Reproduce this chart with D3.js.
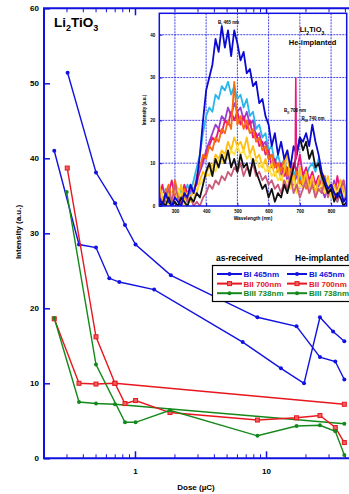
<!DOCTYPE html>
<html>
<head>
<meta charset="utf-8">
<script src="https://cdn.jsdelivr.net/npm/d3@7"></script>
<style>
  body { margin: 0; background: #fff; }
  svg { display: block; }
  text { font-family: "Liberation Sans", Arial, sans-serif; font-weight: bold; }
</style>
</head>
<body>
<svg id="chart" width="349" height="494"></svg>
<script>
// ---- main chart: intensity vs dose ----
// as-received
const doseBIasRec = [0.242, 0.374, 0.504, 0.637, 0.759, 1.40, 6.64, 13.0, 19.5, 25.8, 32.5, 39.6];
const intBIasRec = [41.0, 28.5, 28.1, 24.0, 23.5, 22.5, 15.5, 12.0, 10.0, 18.8, 16.9, 15.6];
const doseBIIasRec = [0.242, 0.374, 0.504, 0.703, 39.6];
const intBIIasRec = [18.6, 10.0, 9.9, 10.0, 7.2];
const doseBIIIasRec = [0.242, 0.374, 0.504, 0.703, 39.6];
const intBIIIasRec = [18.7, 7.5, 7.3, 7.2, 4.6];
// He-implanted
const doseBIhe = [0.306, 0.504, 0.705, 0.839, 1.01, 1.88, 8.6, 17.1, 25.8, 33.8, 39.6];
const intBIhe = [51.4, 38.1, 34.0, 31.1, 28.5, 24.4, 18.8, 17.6, 13.5, 12.9, 10.5];
const doseBIIhe = [0.304, 0.504, 0.703, 0.839, 1.01, 1.85, 8.6, 17.1, 25.8, 33.8, 39.6];
const intBIIhe = [38.7, 16.2, 10.0, 7.3, 7.7, 6.1, 5.1, 5.4, 5.7, 4.1, 2.1];
const doseBIIIhe = [0.301, 0.504, 0.839, 1.01, 1.85, 8.6, 17.1, 25.8, 33.8, 39.6];
const intBIIIhe = [35.5, 12.5, 4.8, 4.8, 6.4, 3.0, 4.3, 4.4, 3.6, 0.45];

const yTicks = [0, 10, 20, 30, 40, 50, 60];
const xLabels = [1, 10];
const bandNames = ["BI 465nm", "BII 700nm", "BIII 738nm"];

// ---- inset: spectra of He-implanted sample ----
const wl = [250,260,270,280,290,300,310,320,330,340,350,360,370,380,390,400,410,420,430,440,
  450,460,470,480,490,500,510,520,530,540,550,560,570,580,590,600,610,620,630,640,
  650,660,670,680,690,700,710,720,730,740,750,760,770,780,790,800,810,820,830,840,850];
const specCyan = [3,1,4,0,2,3,1,4,2,5,3,6,9,12,17,21,23,22,26,25,28,27,29,26,28,25,26,23,25,21,
  22,18,19,16,17,13,14,10,12,9,11,8,10,7,9,6,8,7,9,10,8,11,6,4,5,2,4,1,3,2,1];
const specPurple = [1,3,0,2,1,4,2,0,3,1,4,3,6,8,10,13,15,17,19,18,21,20,23,21,24,22,23,20,22,19,
  20,16,17,14,15,11,12,9,10,7,9,6,8,5,7,6,4,7,5,6,3,5,4,2,5,3,6,2,4,1,3];
const specMagenta = [2,5,1,3,6,2,4,1,5,3,2,4,5,9,11,12,14,16,15,18,17,20,19,22,20,22,19,21,18,20,
  16,17,14,15,12,13,9,11,8,10,7,9,6,10,8,12,7,9,6,8,5,7,4,6,3,5,2,7,3,6,2];
const specOrange = [4,1,3,5,2,6,3,1,4,2,5,3,7,9,12,11,14,13,16,15,18,17,20,18,29,19,21,18,20,17,
  18,15,16,13,14,11,12,9,10,8,11,7,9,6,8,5,7,4,6,5,3,6,4,7,3,5,2,4,6,3,4];
const specGold = [5,2,0,3,1,4,2,5,1,3,2,4,3,6,8,7,10,9,12,11,13,12,15,13,16,14,15,13,16,12,
  14,11,12,9,11,8,10,7,9,6,8,13,5,7,4,9,5,8,4,7,3,6,8,4,7,3,5,2,6,4,3];
const specYellow = [1,3,2,0,3,1,4,2,0,3,1,2,4,5,6,8,7,9,8,11,10,12,11,13,12,14,12,13,11,12,
  10,11,9,10,8,9,7,8,6,7,5,6,4,6,3,5,4,6,3,5,2,4,5,3,6,2,4,3,5,2,6];
const specMauve = [3,0,2,4,1,5,2,0,3,1,2,0,1,0,2,3,5,4,6,5,7,6,8,7,9,8,10,7,9,8,
  10,7,8,6,7,5,6,4,5,3,6,4,7,3,5,2,4,6,3,5,2,4,3,6,2,5,3,1,4,6,2];
const specBlack = [0,1,0,2,0,1,0,2,1,0,2,1,3,2,5,8,10,7,11,9,12,10,13,9,11,8,12,9,10,7,
  11,8,6,4,5,2,4,1,3,2,5,3,6,9,12,16,13,15,11,13,9,10,7,5,3,4,1,3,2,0,1];
const specBlue = [2,0,3,1,0,2,1,0,3,2,5,3,6,12,20,27,30,33,39,36,42,37,41,35,41,38,34,36,31,32,
  28,29,24,25,21,19,14,17,12,15,11,13,9,14,12,16,15,17,14,19,15,12,8,6,4,5,3,2,4,1,2];
const spikeWl = [685, 687, 689];
const spikeVal = [9, 30, 11];
const insetXTicks = [300, 400, 500, 600, 700, 800];
const insetYTicks = [0, 10, 20, 30, 40];

const blue = "#1212e0", red = "#e8161e", green = "#14891b";

const svg = d3.select("#chart");

const x = d3.scaleLog().domain([0.2, 50]).range([43.4, 357.6]);
const y = d3.scaleLinear().domain([0, 60]).range([458.3, 8.3]);

// minor + major ticks on bottom and top
const minorVals = [];
[0.1, 1, 10].forEach(d => { for (let k = 1; k <= 9; k++) minorVals.push(d * k); });
const minorTicks = minorVals.filter(v => v >= 0.2 && v <= 50);

svg.append("g").attr("transform", "translate(0,458.3)")
  .call(d3.axisBottom(x).tickValues(minorTicks).tickSize(-4).tickFormat(""))
  .call(g => g.select(".domain").remove())
  .call(g => g.selectAll("line").attr("stroke", blue));
svg.append("g").attr("transform", "translate(0,458.3)")
  .call(d3.axisBottom(x).tickValues(xLabels).tickSize(-7).tickPadding(10).tickFormat(d3.format("d")))
  .call(g => g.select(".domain").remove())
  .call(g => g.selectAll("line").attr("stroke", blue).attr("stroke-width", 1.5))
  .call(g => g.selectAll("text").attr("font-size", 8).attr("fill", "#000"));

svg.append("g").attr("transform", "translate(0,8.3)")
  .call(d3.axisTop(x).tickValues(minorTicks).tickSize(-4).tickFormat(""))
  .call(g => g.select(".domain").remove())
  .call(g => g.selectAll("line").attr("stroke", blue));
svg.append("g").attr("transform", "translate(0,8.3)")
  .call(d3.axisTop(x).tickValues(xLabels).tickSize(-7).tickFormat(""))
  .call(g => g.select(".domain").remove())
  .call(g => g.selectAll("line").attr("stroke", blue).attr("stroke-width", 1.5));

svg.append("g").attr("transform", "translate(44,0)")
  .call(d3.axisLeft(y).tickValues(yTicks).tickSize(-6).tickPadding(5))
  .call(g => g.select(".domain").remove())
  .call(g => g.selectAll("line").attr("stroke", blue).attr("stroke-width", 1.5))
  .call(g => g.selectAll("text").attr("font-size", 8).attr("fill", "#000"));

// frame
svg.append("path")
  .attr("d", `M349,8.3H44V458.3H349`)
  .attr("fill", "none").attr("stroke", blue).attr("stroke-width", 2);

// axis titles
svg.append("text").attr("x", 196).attr("y", 490).attr("text-anchor", "middle")
  .attr("font-size", 8).text("Dose (µC)");
svg.append("text").attr("transform", "translate(21,232) rotate(-90)")
  .attr("text-anchor", "middle").attr("font-size", 8).text("Intensity (a.u.)");

// title
const title = svg.append("text").attr("x", 54).attr("y", 27).attr("font-size", 13.5);
title.append("tspan").text("Li");
title.append("tspan").attr("font-size", 9).attr("dy", 4).text("2");
title.append("tspan").attr("dy", -4).text("TiO");
title.append("tspan").attr("font-size", 9).attr("dy", 4).text("3");

// series
const series = [
  { d: doseBIasRec, v: intBIasRec, c: blue, m: "dot" },
  { d: doseBIIasRec, v: intBIIasRec, c: red, m: "sq" },
  { d: doseBIIIasRec, v: intBIIIasRec, c: green, m: "dot" },
  { d: doseBIhe, v: intBIhe, c: blue, m: "dot" },
  { d: doseBIIhe, v: intBIIhe, c: red, m: "sq" },
  { d: doseBIIIhe, v: intBIIIhe, c: green, m: "dot" }
];
const line = d3.line().x(p => x(p[0])).y(p => y(p[1]));

function marker(g, px, py, c, m) {
  if (m === "sq") {
    g.append("rect").attr("x", px - 2).attr("y", py - 2).attr("width", 4).attr("height", 4)
      .attr("fill", "#f06060").attr("stroke", c).attr("stroke-width", 1);
  } else {
    g.append("circle").attr("cx", px).attr("cy", py).attr("r", 2).attr("fill", c);
  }
}

series.forEach(s => {
  const pts = s.d.map((d, i) => [d, s.v[i]]);
  svg.append("path").datum(pts).attr("d", line)
    .attr("fill", "none").attr("stroke", s.c).attr("stroke-width", 1.4);
  const g = svg.append("g");
  pts.forEach(p => marker(g, x(p[0]), y(p[1]), s.c, s.m));
});

// legend
const lg = svg.append("g");
lg.append("text").attr("x", 216).attr("y", 261).attr("font-size", 8.5).text("as-received");
lg.append("text").attr("x", 295).attr("y", 261).attr("font-size", 8.5).text("He-implanted");
lg.append("rect").attr("x", 212.5).attr("y", 265.5).attr("width", 200).attr("height", 36)
  .attr("fill", "#fff").attr("stroke", "#000").attr("stroke-width", 1.2);
const legColors = [blue, red, green];
const legMarks = ["dot", "sq", "dot"];
bandNames.forEach((name, i) => {
  const ly = 274 + i * 9.6;
  [[217, 242, 243.5], [287, 307, 309]].forEach(col => {
    lg.append("line").attr("x1", col[0]).attr("x2", col[1]).attr("y1", ly).attr("y2", ly)
      .attr("stroke", legColors[i]).attr("stroke-width", 2);
    marker(lg, (col[0] + col[1]) / 2, ly, legColors[i], legMarks[i]);
    lg.append("text").attr("x", col[2]).attr("y", ly + 3).attr("font-size", 8)
      .attr("fill", legColors[i]).text(name);
  });
});

// ---- inset ----
const xi = d3.scaleLinear().domain([250, 850]).range([159.3, 346.7]);
const yi = d3.scaleLinear().domain([0, 45]).range([206, 13.3]);
const ins = svg.append("g");
ins.append("rect").attr("x", 159.3).attr("y", 13.3).attr("width", 187.4).attr("height", 192.7)
  .attr("fill", "#fff");
ins.append("clipPath").attr("id", "insclip").append("rect")
  .attr("x", 159.3).attr("y", 13.3).attr("width", 187.4).attr("height", 192.7);

// grid
ins.append("g").selectAll("line").data(insetXTicks).join("line")
  .attr("x1", d => xi(d)).attr("x2", d => xi(d)).attr("y1", 13.3).attr("y2", 206)
  .attr("stroke", blue).attr("stroke-width", 0.8).attr("stroke-dasharray", "2,1");
ins.append("g").selectAll("line").data(insetYTicks.slice(1)).join("line")
  .attr("x1", 159.3).attr("x2", 346.7).attr("y1", d => yi(d)).attr("y2", d => yi(d))
  .attr("stroke", blue).attr("stroke-width", 0.8).attr("stroke-dasharray", "2,1");

const specs = [
  [specCyan, "#29b6ec"], [specPurple, "#9a3fd0"], [specMagenta, "#e8187e"],
  [specOrange, "#fb6a0c"], [specGold, "#ffbf10"], [specYellow, "#ffe04a"],
  [specMauve, "#cc5a7a"], [specBlack, "#111111"], [specBlue, "#0a0ad0"]
];
const sline = d3.line().x((d, i) => xi(wl[i])).y(d => yi(d));
const sg = ins.append("g").attr("clip-path", "url(#insclip)");
specs.forEach(s => {
  sg.append("path").datum(s[0]).attr("d", sline)
    .attr("fill", "none").attr("stroke", s[1]).attr("stroke-width", 1.8)
    .attr("stroke-linejoin", "round");
});
sg.append("path").datum(spikeVal)
  .attr("d", d3.line().x((d, i) => xi(spikeWl[i])).y(d => yi(d)))
  .attr("fill", "none").attr("stroke", "#e8187e").attr("stroke-width", 1.6);

// inset axes
ins.append("g").attr("transform", "translate(0,206)")
  .call(d3.axisBottom(xi).tickValues(insetXTicks).tickSize(-3).tickPadding(4))
  .call(g => g.select(".domain").remove())
  .call(g => g.selectAll("line").attr("stroke", blue))
  .call(g => g.selectAll("text").attr("font-size", 4.5).attr("fill", "#000"));
ins.append("g").attr("transform", "translate(159.3,0)")
  .call(d3.axisLeft(yi).tickValues(insetYTicks).tickSize(-3).tickPadding(4))
  .call(g => g.select(".domain").remove())
  .call(g => g.selectAll("line").attr("stroke", blue))
  .call(g => g.selectAll("text").attr("font-size", 4.5).attr("fill", "#000"));
ins.append("rect").attr("x", 159.3).attr("y", 13.3).attr("width", 187.4).attr("height", 192.7)
  .attr("fill", "none").attr("stroke", blue).attr("stroke-width", 1.5);

ins.append("text").attr("x", 253).attr("y", 220).attr("text-anchor", "middle")
  .attr("font-size", 4.8).text("Wavelength (nm)");
ins.append("text").attr("transform", "translate(146,110) rotate(-90)")
  .attr("text-anchor", "middle").attr("font-size", 4.5).text("Intensity (a.u.)");

function bandLabel(px, py, sub, rest) {
  const t = ins.append("text").attr("x", px).attr("y", py).attr("font-size", 4.5);
  t.append("tspan").text("B");
  t.append("tspan").attr("font-size", 3.5).attr("dy", 1.5).text(sub);
  t.append("tspan").attr("dy", -1.5).text(rest);
}
bandLabel(218, 24, "I", " 465 nm");
bandLabel(284, 112, "II", " 700 nm");
bandLabel(301.5, 120, "III", " 740 nm");

const it = ins.append("text").attr("x", 312).attr("y", 32).attr("text-anchor", "middle").attr("font-size", 7.5);
it.append("tspan").text("Li");
it.append("tspan").attr("font-size", 5).attr("dy", 2.5).text("2");
it.append("tspan").attr("dy", -2.5).text("TiO");
it.append("tspan").attr("font-size", 5).attr("dy", 2.5).text("3");
ins.append("text").attr("x", 312.5).attr("y", 45).attr("text-anchor", "middle")
  .attr("font-size", 7.5).text("He-implanted");
</script>
</body>
</html>
